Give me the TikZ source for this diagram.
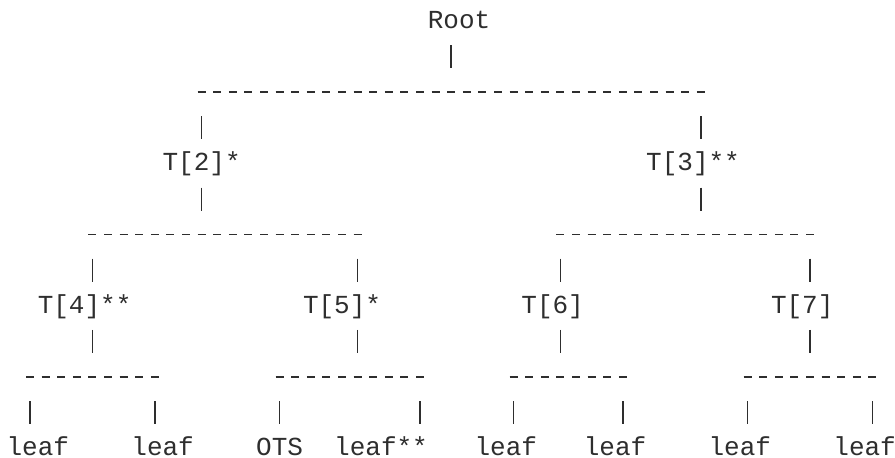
\documentclass[tikz,border=0pt]{standalone}
\usepackage{fontspec}
\newfontfamily\treemono{Liberation Mono}
\definecolor{ink}{HTML}{2E2E2E}

% Grid: one unit in x is one character cell, one unit in y is one text row.
\tikzset{
  lbl/.style={anchor=base west, inner sep=0pt, outer sep=0pt, text=ink,
              text depth=0pt,
              font=\treemono\fontsize{26pt}{26pt}\selectfont},
  pipe/.style={draw=ink, line width=1.6pt},
  rail/.style={draw=ink, line width=1.7pt, dash pattern=on 8pt off 7.6pt},
}

% vertical stroke centred in cell (column, row)
\newcommand\vstroke[3]{%
  \coordinate (#1) at (#2+0.5,#3);
  \draw[pipe] ([yshift=19pt]#1) -- ([yshift=-4pt]#1);}
% dashed rail spanning columns #2..#3 in row #4
\newcommand\hrail[4]{%
  \coordinate (#1a) at (#2+0.2436,#4);
  \coordinate (#1b) at (#3+0.7564,#4);
  \draw[rail] ([yshift=7.5pt]#1a) -- ([yshift=7.5pt]#1b);}

\begin{document}
\begin{tikzpicture}[x=15.6pt, y=-35.6pt]
  \fill[white] (-6.6pt,28.5pt) rectangle (888.4pt,-429.5pt);
  \useasboundingbox (-6.6pt,28.5pt) rectangle (888.4pt,-429.5pt);

  % labels
  \node[lbl] (root) at (27,0) {Root};
  \node[lbl] (t2) at (10,4) {T[2]*};
  \node[lbl] (t3) at (41,4) {T[3]**};
  \node[lbl] (t4) at (2,8)  {T[4]**};
  \node[lbl] (t5) at (19,8) {T[5]*};
  \node[lbl] (t6) at (33,8) {T[6]};
  \node[lbl] (t7) at (49,8) {T[7]};
  \node[lbl] (l1) at (0,12)  {leaf};
  \node[lbl] (l2) at (8,12)  {leaf};
  \node[lbl] (ots) at (16,12) {OTS};
  \node[lbl] (l4) at (21,12) {leaf**};
  \node[lbl] (l5) at (30,12) {leaf};
  \node[lbl] (l6) at (37,12) {leaf};
  \node[lbl] (l7) at (45,12) {leaf};
  \node[lbl] (l8) at (53,12) {leaf};

  % level 1
  \vstroke{pr}{28}{1}
  \hrail{ra}{12}{44}{2}
  \vstroke{p2u}{12}{3}
  \vstroke{p3u}{44}{3}
  \vstroke{p2d}{12}{5}
  \vstroke{p3d}{44}{5}

  % level 2
  \hrail{rb}{5}{22}{6}
  \hrail{rc}{35}{51}{6}
  \vstroke{p4u}{5}{7}
  \vstroke{p5u}{22}{7}
  \vstroke{p6u}{35}{7}
  \vstroke{p7u}{51}{7}
  \vstroke{p4d}{5}{9}
  \vstroke{p5d}{22}{9}
  \vstroke{p6d}{35}{9}
  \vstroke{p7d}{51}{9}

  % level 3
  \hrail{rd}{1}{9}{10}
  \hrail{re}{17}{26}{10}
  \hrail{rf}{32}{39}{10}
  \hrail{rg}{47}{55}{10}
  \vstroke{q1}{1}{11}
  \vstroke{q2}{9}{11}
  \vstroke{q3}{17}{11}
  \vstroke{q4}{26}{11}
  \vstroke{q5}{32}{11}
  \vstroke{q6}{39}{11}
  \vstroke{q7}{47}{11}
  \vstroke{q8}{55}{11}
\end{tikzpicture}
\end{document}
